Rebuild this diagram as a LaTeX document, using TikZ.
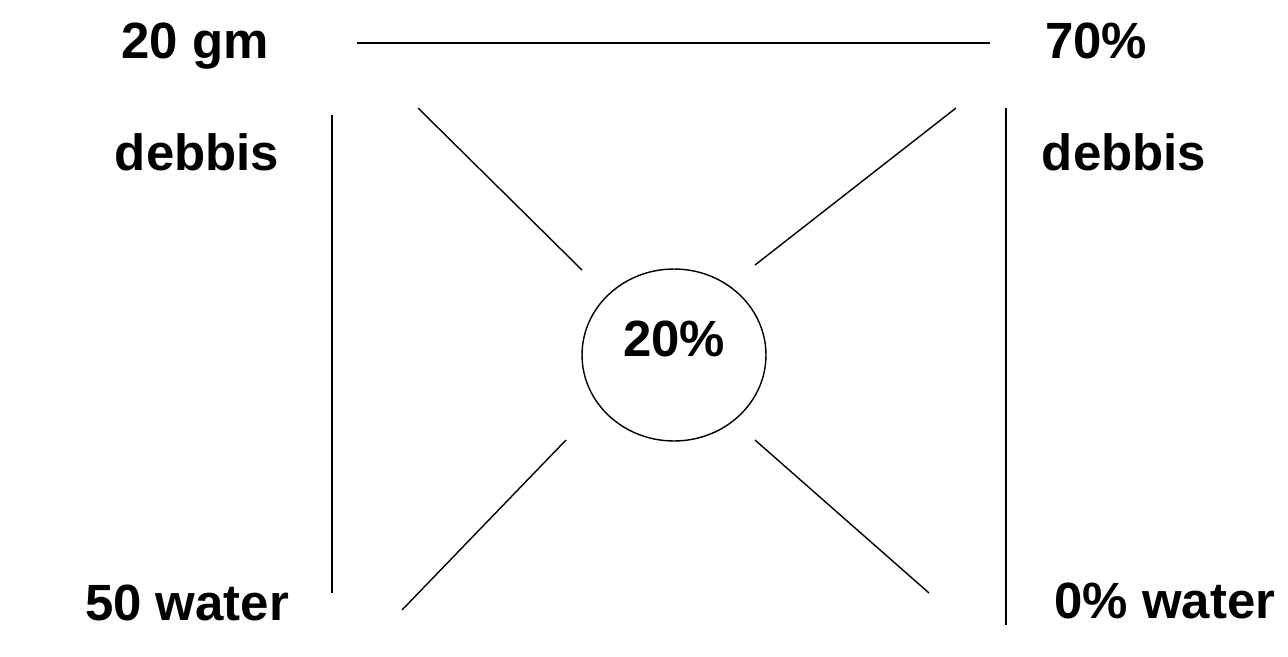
\documentclass[tikz,border=0pt]{standalone}
\usepackage{fontspec}
\setmainfont{Liberation Sans}
\usetikzlibrary{shapes.geometric}

\begin{document}
\begin{tikzpicture}[x=0.02cm,y=-0.02cm,line width=0.8pt,
  lbl/.style={font=\fontsize{29}{32}\selectfont\bfseries,inner sep=0pt,anchor=base}]
  % pearson square: corners carry the amounts, the mix sits in the middle
  \useasboundingbox (0,0) rectangle (1288,656);
  \node[lbl] (gm) at (195,58) {20 gm};
  \node[lbl] (top) at (1096,58) {70\%};
  \node[lbl] (debl) at (197,170) {debbis};
  \node[lbl] (debr) at (1124,170) {debbis};
  \node[lbl] (wl) at (187,620) {50 water};
  \node[lbl] (wr) at (1165,618) {0\% water};
  \node[draw,ellipse,minimum width=3.68cm,minimum height=3.44cm] (mix) at (674,355) {};
  \node[lbl] (mixval) at (674,356) {20\%};
  % line ends
  \coordinate (t1) at (357,43);   \coordinate (t2) at (990,43);
  \coordinate (l1) at (332,115);  \coordinate (l2) at (332,593);
  \coordinate (r1) at (1006,108); \coordinate (r2) at (1006,625);
  \coordinate (a1) at (418,108);  \coordinate (a2) at (582,270);
  \coordinate (b1) at (956,108);  \coordinate (b2) at (755,265);
  \coordinate (c1) at (566,440);  \coordinate (c2) at (402,610);
  \coordinate (d1) at (755,440);  \coordinate (d2) at (929,593);
  \draw (t1) -- (t2);
  \draw (l1) -- (l2);
  \draw (r1) -- (r2);
  \draw (a1) -- (a2);
  \draw (b1) -- (b2);
  \draw (c1) -- (c2);
  \draw (d1) -- (d2);
\end{tikzpicture}
\end{document}
